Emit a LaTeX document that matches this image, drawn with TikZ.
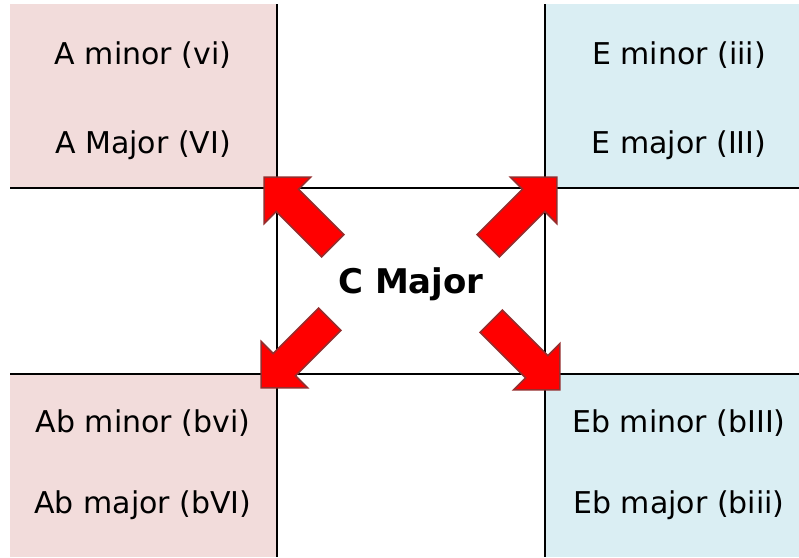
\documentclass[tikz,border=0pt]{standalone}
\usepackage{fontspec}
\setmainfont{DejaVu Sans}
\usetikzlibrary{shapes.arrows}

\definecolor{minorpink}{RGB}{242,220,219}
\definecolor{minorblue}{RGB}{218,238,243}
\definecolor{arrowred}{RGB}{255,0,0}
\definecolor{arrowedge}{RGB}{150,45,45}

\tikzset{
  keylabel/.style={inner sep=0pt, font=\fontsize{30}{36}\selectfont},
  homekey/.style={inner sep=0pt, font=\fontsize{34}{40}\selectfont\bfseries},
  bigarrow/.style={single arrow, draw=arrowedge, fill=arrowred, line width=1.6pt,
    inner sep=15pt, minimum height=97pt, single arrow head extend=17pt,
    single arrow head indent=0pt},
  gridline/.style={draw=black, line width=1.3pt}
}

\begin{document}
\begin{tikzpicture}[x=1pt,y=-1pt]
\useasboundingbox (0,0) rectangle (799,557);
\fill[white] (0,0) rectangle (799,557);
% cells
\fill[minorpink] (10,4) rectangle (277,188);
\fill[minorblue] (545,4) rectangle (799,188);
\fill[minorpink] (10,374) rectangle (277,557);
\fill[minorblue] (545,374) rectangle (799,557);
% grid
\path[gridline] (277,4) -- (277,557);
\path[gridline] (545,4) -- (545,557);
\path[gridline] (10,188) -- (799,188);
\path[gridline] (10,374) -- (799,374);
% keys
\node[keylabel] (amin) at (143,55) {A minor (vi)};
\node[keylabel] (amaj) at (143,145) {A Major (VI)};
\node[keylabel] (emin) at (679,55) {E minor (iii)};
\node[keylabel] (emaj) at (679,145) {E major (III)};
\node[keylabel] (abmin) at (143,423) {Ab minor (bvi)};
\node[keylabel] (abmaj) at (143,505) {Ab major (bVI)};
\node[keylabel] (ebmin) at (679,423) {Eb minor (bIII)};
\node[keylabel] (ebmaj) at (679,505) {Eb major (biii)};
\node[homekey] (cmaj) at (411,284) {C Major};
% arrows
\node[bigarrow, rotate=135] (nw) at (304,217) {};
\node[bigarrow, rotate=45] (ne) at (517,217) {};
\node[bigarrow, rotate=225] (sw) at (301,348) {};
\node[bigarrow, rotate=315] (se) at (520,350) {};
\end{tikzpicture}
\end{document}
